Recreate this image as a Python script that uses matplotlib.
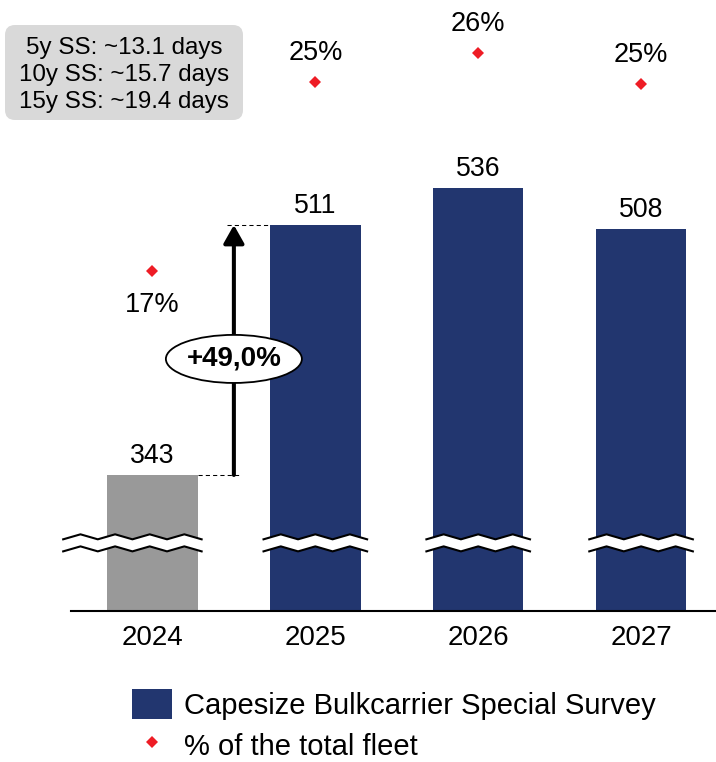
import matplotlib
matplotlib.use("Agg")
import matplotlib.pyplot as plt
from matplotlib.patches import Ellipse, FancyBboxPatch, Polygon
from matplotlib.lines import Line2D
import numpy as np

# ---- data ----
years = ["2024", "2025", "2026", "2027"]
surveys = [343, 511, 536, 508]
fleet_share = [17.0, 24.8, 26.0, 24.7]
growth_label = "+49,0%"
notes = ["5y SS: ~13.1 days", "10y SS: ~15.7 days", "15y SS: ~19.4 days"]
legend_labels = ["Capesize Bulkcarrier Special Survey", "% of the total fleet"]

# ---- style ----
NAVY = "#22366f"
GREY = "#999999"
RED = "#ee1c25"
bar_colors = [GREY, NAVY, NAVY, NAVY]
pct_offsets_px = [-41, 22, 22, 22]          # label baseline relative to marker
break_spans = [(-0.548, 0.302), (-0.318, 0.318), (-0.318, 0.318), (-0.318, 0.318)]

plt.rcParams["font.family"] = ["Liberation Sans", "DejaVu Sans"]
PT = 72 / 100  # points per pixel at dpi 100

W, H = 716, 762
fig = plt.figure(figsize=(W / 100, H / 100), dpi=100)
ax = fig.add_axes([71 / W, 151 / H, (W - 71) / W, 611 / H])

x = np.arange(len(years))
BAR_W = 0.555
bars = ax.bar(x, surveys, width=BAR_W, color=bar_colors, zorder=2)
ax.set_xlim(-0.5, 3.46)
ax.set_ylim(251.6, 662.2)

for s in ("top", "left", "right"):
    ax.spines[s].set_visible(False)
ax.spines["bottom"].set_linewidth(1.5)
ax.spines["bottom"].set_color("black")
ax.set_yticks([])
ax.set_xticks(x, years)
ax.tick_params(axis="x", length=0, labelsize=20, pad=10)

# value labels above bars
for xi, v in zip(x, surveys):
    ax.annotate(f"{v}", (xi, v), xytext=(0, 12 * PT), textcoords="offset points",
                ha="center", va="baseline", fontsize=19.2, zorder=5)

# axis-break symbols across each bar
BREAK_Y = 297.4
BREAK_GAP = 8.1
BREAK_AMP = 1.68
PERIOD = 0.212
for xi, (a, b) in zip(x, break_spans):
    n = int(round((b - a) / PERIOD))
    xs = np.linspace(xi + a, xi + b, 2 * n + 1)
    wave = np.where(np.arange(len(xs)) % 2 == 0, -BREAK_AMP, BREAK_AMP)
    upper = BREAK_Y + BREAK_GAP / 2 + wave
    lower = BREAK_Y - BREAK_GAP / 2 + wave
    poly = np.column_stack([np.r_[xs, xs[::-1]], np.r_[upper, lower[::-1]]])
    ax.add_patch(Polygon(poly, closed=True, facecolor="white", edgecolor="none",
                         zorder=3, clip_on=False))
    ax.plot(xs, upper, color="black", lw=1.5, zorder=4, clip_on=False)
    ax.plot(xs, lower, color="black", lw=1.5, zorder=4, clip_on=False)

# growth arrow between 2024 and 2025
ARROW_X = 0.5
ax.annotate("", xy=(ARROW_X, surveys[1]), xytext=(ARROW_X, surveys[0]),
            arrowprops=dict(arrowstyle="-|>,head_length=1.1,head_width=0.62",
                            mutation_scale=10, lw=2.9, color="black",
                            shrinkA=0, shrinkB=0), zorder=3)
ax.plot([0.458, 1 - BAR_W / 2], [surveys[1]] * 2, color="black", lw=0.75,
        ls=(0, (4, 3)), zorder=3)
ax.plot([BAR_W / 2, 0.537], [surveys[0]] * 2, color="black", lw=0.75,
        ls=(0, (4, 3)), zorder=3)
ELL_Y = 421
ax.add_patch(Ellipse((ARROW_X, ELL_Y), width=0.835, height=32.3,
                     facecolor="white", edgecolor="black", lw=1.3, zorder=4))
ax.text(ARROW_X, ELL_Y, growth_label, ha="center", va="center",
        fontsize=20, fontweight="bold", zorder=5)

# share of total fleet on a hidden secondary axis
ax2 = ax.twinx()
ax2.set_ylim(2.99, 28.17)
ax2.axis("off")
share_line, = ax2.plot(x, fleet_share, ls="none", marker="D", ms=6.5,
                       color=RED, mew=0)
for xi, v, off in zip(x, fleet_share, pct_offsets_px):
    ax2.annotate(f"{v:.0f}%", (xi, v), xytext=(0, off * PT),
                 textcoords="offset points", ha="center", va="baseline",
                 fontsize=19.5)

# note box in the top-left corner
box = FancyBboxPatch((0.05, (H - 120) / 100), 2.38, 0.95,
                     boxstyle="round,pad=0,rounding_size=0.1",
                     transform=fig.dpi_scale_trans, facecolor="#d9d9d9",
                     edgecolor="none")
fig.add_artist(box)
for line, base in zip(notes, [54, 81, 108]):
    fig.text(124 / W, 1 - base / H, line, ha="center", va="baseline",
             fontsize=17.4)

# legend
marker_handle = Line2D([], [], ls="none", marker="D", ms=6, color=RED, mew=0)
ax2.legend(handles=[bars[1], marker_handle], labels=legend_labels,
           loc="upper left", bbox_to_anchor=(132 / W, 1 - 689 / H),
           bbox_transform=fig.transFigure, frameon=False, fontsize=21,
           handlelength=1.37, handleheight=1.2, handletextpad=0.4,
           labelspacing=0.35, borderpad=0, borderaxespad=0)

fig.savefig("out.png", dpi=100)
